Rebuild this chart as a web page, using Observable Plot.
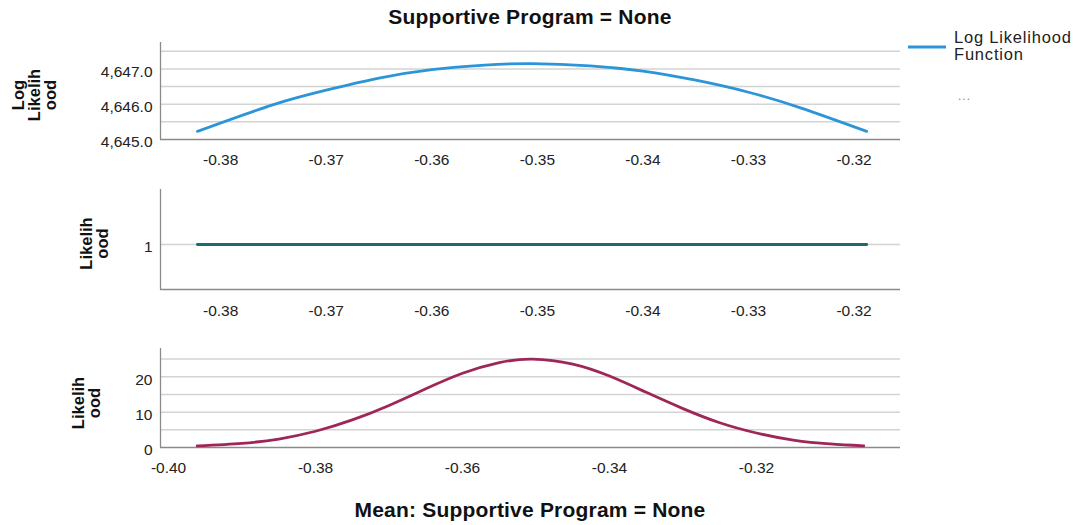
<!DOCTYPE html>
<html>
<head>
<meta charset="utf-8">
<script src="https://cdn.jsdelivr.net/npm/d3@7"></script>
<script src="https://cdn.jsdelivr.net/npm/@observablehq/plot@0.6"></script>
<style>
  body { margin: 0; background: #fff; }
  #chart { position: relative; width: 1092px; height: 525px; font-family: "Liberation Sans", Arial, sans-serif; overflow: hidden; }
  #chart svg { position: absolute; left: 0; }
  .title { position: absolute; left: 160px; width: 740px; text-align: center; font-weight: bold; font-size: 21px; line-height: 24px; color: #111; letter-spacing: 0.2px; }
  .legend { position: absolute; left: 906px; font-size: 16.5px; color: #222; }
</style>
</head>
<body>
<div id="chart"></div>
<script>
// ---- data ----
const chartTitle = "Supportive Program = None";
const xAxisTitle = "Mean: Supportive Program = None";
const legendLabel = ["Log Likelihood", "Function"];

// Panel 1: log likelihood function
const llX = [-0.3822, -0.375, -0.370, -0.365, -0.360, -0.355, -0.3505, -0.345, -0.340, -0.335, -0.330, -0.325, -0.3188];
const llY = [4645.23, 4645.99, 4646.40, 4646.74, 4646.98, 4647.11, 4647.15, 4647.09, 4646.94, 4646.68, 4646.34, 4645.89, 4645.23];
const llTicks = [4645, 4646, 4647];
const llGrid = [4645.5, 4646, 4646.5, 4647, 4647.5];

// Panel 2: likelihood (scaled)
const midX = [-0.3822, -0.3188];
const midY = [1, 1];
const midTicks = [1];

// Panel 3: likelihood
const likX = [-0.3961, -0.390, -0.385, -0.380, -0.375, -0.370, -0.365, -0.360, -0.355, -0.3505, -0.345, -0.340, -0.335, -0.330, -0.325, -0.320, -0.315, -0.310, -0.3054];
const likY = [0.45, 1.18, 2.4, 4.6, 7.8, 11.9, 16.6, 21.0, 24.0, 25.0, 23.6, 20.2, 15.6, 11.0, 7.0, 4.1, 2.1, 1.0, 0.47];
const likTicks = [0, 10, 20];
const likGrid = [5, 10, 15, 20, 25];

const topXTicks = [-0.38, -0.37, -0.36, -0.35, -0.34, -0.33, -0.32];
const botXTicks = [-0.40, -0.38, -0.36, -0.34, -0.32];

// ---- layout ----
const W = 1092, ML = 160, MR = 192;
const topXDomain = [-0.3857, -0.3156];
const botXDomain = [-0.4011, -0.3004];
const font = {fontFamily: "'Liberation Sans', Arial, sans-serif", fontSize: "15.5px", color: "#222", background: "transparent", overflow: "visible"};
const axisCol = "#8a8a8a", gridCol = "#d3d3d3";
const fmtX = d => d.toFixed(2);
const yTitle = {frameAnchor: "left", rotate: -90, textAnchor: "middle", lineAnchor: "middle", fontWeight: "bold", fontSize: 16.5, lineHeight: 0.97, fill: "#111"};

function rows(xs, ys) { return xs.map((x, i) => ({x, y: ys[i]})); }

const chart = document.getElementById("chart");

function addTitle(text, top) {
  const d = document.createElement("div");
  d.className = "title"; d.style.top = top + "px"; d.textContent = text;
  chart.appendChild(d);
}

addTitle(chartTitle, 5);

// Panel 1
const p1 = Plot.plot({
  width: W, height: 175, marginLeft: ML, marginRight: MR, marginTop: 42, marginBottom: 36,
  style: font,
  x: {domain: topXDomain},
  y: {domain: [4645, 4647.75]},
  marks: [
    Plot.ruleY(llGrid, {stroke: gridCol, strokeWidth: 1.5}),
    Plot.ruleX([topXDomain[0]], {stroke: axisCol, strokeWidth: 1.3}),
    Plot.ruleY([4645], {stroke: axisCol, strokeWidth: 1.3}),
    Plot.axisY(llTicks, {tickSize: 0, tickPadding: 8, tickFormat: d3.format(",.1f"), dy: 3, label: null}),
    Plot.axisX(topXTicks, {tickSize: 0, tickPadding: 14, tickFormat: fmtX, label: null}),
    Plot.line(rows(llX, llY), {x: "x", y: "y", stroke: "#2b95d8", strokeWidth: 2.8, curve: "natural"}),
    Plot.text(["Log\nLikelih\nood"], {...yTitle, dx: -126, dy: 4})
  ]
});
p1.style.top = "0px";
chart.appendChild(p1);

// Panel 2
const p2 = Plot.plot({
  width: W, height: 155, marginLeft: ML, marginRight: MR, marginTop: 14, marginBottom: 41,
  style: font,
  x: {domain: topXDomain},
  y: {domain: [0.55, 1.55]},
  marks: [
    Plot.ruleY(midTicks, {stroke: gridCol, strokeWidth: 1.5}),
    Plot.ruleX([topXDomain[0]], {stroke: axisCol, strokeWidth: 1.3}),
    Plot.ruleY([0.55], {stroke: axisCol, strokeWidth: 1.3}),
    Plot.axisY(midTicks, {tickSize: 0, tickPadding: 8, tickFormat: d => String(d), dy: 3, label: null}),
    Plot.axisX(topXTicks, {tickSize: 0, tickPadding: 15, tickFormat: fmtX, label: null}),
    Plot.line(rows(midX, midY), {x: "x", y: "y", stroke: "#1d6a6c", strokeWidth: 2.8}),
    Plot.text(["Likelih\nood"], {...yTitle, dx: -66, dy: 4})
  ]
});
p2.style.top = "175px";
chart.appendChild(p2);

// Panel 3
const p3 = Plot.plot({
  width: W, height: 195, marginLeft: ML, marginRight: MR, marginTop: 18, marginBottom: 78,
  style: font,
  x: {domain: botXDomain},
  y: {domain: [0, 28]},
  marks: [
    Plot.ruleY(likGrid, {stroke: gridCol, strokeWidth: 1.5}),
    Plot.ruleX([botXDomain[0]], {stroke: axisCol, strokeWidth: 1.3}),
    Plot.ruleY([0], {stroke: axisCol, strokeWidth: 1.3}),
    Plot.axisY(likTicks, {tickSize: 0, tickPadding: 8, tickFormat: d => String(d), dy: 3, label: null}),
    Plot.axisX(botXTicks, {tickSize: 0, tickPadding: 14, tickFormat: fmtX, label: null}),
    Plot.line(rows(likX, likY), {x: "x", y: "y", stroke: "#9e2757", strokeWidth: 2.8, curve: "natural"}),
    Plot.text(["Likelih\nood"], {...yTitle, dx: -74, dy: 5})
  ]
});
p3.style.top = "330px";
chart.appendChild(p3);

addTitle(xAxisTitle, 498);

// Legend
const leg = document.createElement("div");
leg.className = "legend";
leg.style.top = "29px";
leg.innerHTML =
  '<svg width="40" height="6" style="position:absolute;left:0;top:15px;overflow:visible"><line x1="2" x2="40" y1="3" y2="3" stroke="#2b95d8" stroke-width="3"/></svg>' +
  '<div style="position:absolute;left:48px;top:0;line-height:17px;letter-spacing:0.8px;white-space:nowrap">' + legendLabel.join("<br>") + '</div>' +
  '<div style="position:absolute;left:52px;top:60px;font-size:12px;color:#888;letter-spacing:1px">...</div>';
chart.appendChild(leg);
</script>
</body>
</html>
